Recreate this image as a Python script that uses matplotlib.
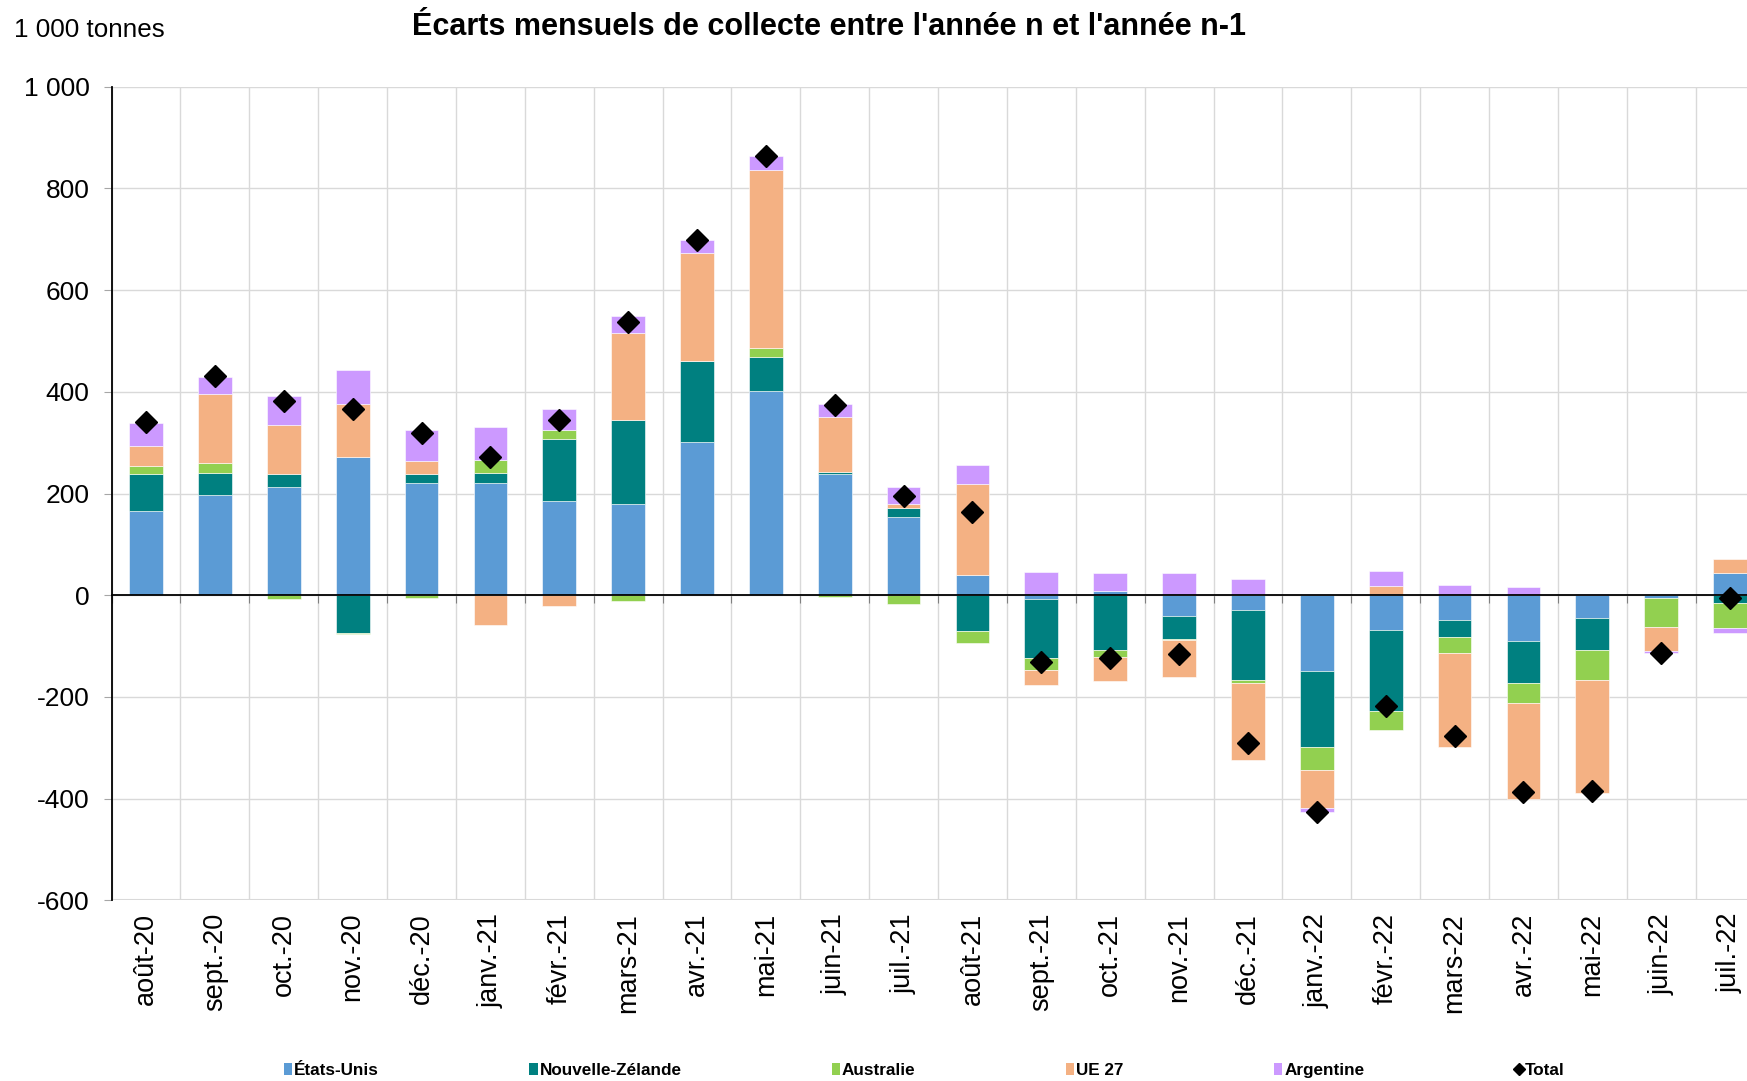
import matplotlib
matplotlib.use("Agg")
import matplotlib.pyplot as plt
import numpy as np
from matplotlib.patches import Patch
from matplotlib.lines import Line2D
from matplotlib.ticker import FuncFormatter, MultipleLocator, FixedLocator

plt.rcParams['font.family'] = ['Liberation Sans', 'DejaVu Sans']

months = ['août-20', 'sept.-20', 'oct.-20', 'nov.-20', 'déc.-20', 'janv.-21', 'févr.-21',
          'mars-21', 'avr.-21', 'mai-21', 'juin-21', 'juil.-21', 'août-21', 'sept.-21',
          'oct.-21', 'nov.-21', 'déc.-21', 'janv.-22', 'févr.-22', 'mars-22', 'avr.-22',
          'mai-22', 'juin-22', 'juil.-22']

etats_unis = [166, 197, 213, 271, 221, 221, 186, 180, 302, 401, 239, 154,
              40, -7, 8, -41, -28, -148, -69, -49, -90, -45, -5, 43]
nouvelle_zelande = [73, 44, 26, -75, 18, 20, 121, 164, 158, 68, 4, 18,
                    -70, -117, -108, -44, -138, -150, -158, -33, -83, -63, 0, -16]
australie = [15, 20, -8, -1, -6, 25, 18, -12, 0, 18, -4, -17,
             -23, -22, -14, -2, -7, -46, -37, -32, -38, -58, -57, -49]
ue27 = [39, 135, 96, 105, 25, -59, -22, 172, 213, 349, 108, 7,
        178, -31, -46, -73, -150, -75, 19, -184, -190, -222, -47, 28]
argentine = [46, 34, 56, 67, 62, 64, 42, 34, 26, 28, 26, 33,
             38, 45, 35, 43, 32, -8, 28, 20, 16, 3, -5, -10]
total = [340, 431, 383, 367, 319, 271, 345, 537, 698, 864, 374, 195,
         163, -132, -123, -116, -291, -427, -217, -277, -386, -384, -113, -5]

series_names = ['États-Unis', 'Nouvelle-Zélande', 'Australie', 'UE 27', 'Argentine']
series_values = [etats_unis, nouvelle_zelande, australie, ue27, argentine]
series_colors = ['#5B9BD5', '#008080', '#92D050', '#F4B183', '#CC99FF']

W, H = 1747, 1081
fig = plt.figure(figsize=(W / 100, H / 100), dpi=100)
ax = fig.add_axes([111.6 / W, (H - 900.4) / H, 24 * 68.87 / W, (900.4 - 86.8) / H])

x = np.arange(len(months))
pos_base = np.zeros(len(months))
neg_base = np.zeros(len(months))
for name, vals, col in zip(series_names, series_values, series_colors):
    v = np.array(vals, dtype=float)
    bottoms = np.where(v >= 0, pos_base, neg_base)
    ax.bar(x, v, width=0.49, bottom=bottoms, color=col, edgecolor='#ffffff',
           linewidth=0.4, zorder=3)
    pos_base = pos_base + np.where(v >= 0, v, 0)
    neg_base = neg_base + np.where(v < 0, v, 0)

ax.plot(x, total, linestyle='none', marker='D', markersize=11.5, color='black', zorder=5)

ax.set_xlim(-0.5, len(months) - 0.5)
ax.set_ylim(-600, 1000)
ax.yaxis.set_major_locator(MultipleLocator(200))
ax.yaxis.set_major_formatter(FuncFormatter(lambda v, p: f"{int(v):,}".replace(',', ' ')))
ax.tick_params(axis='y', labelsize=19, length=5.5, color='#a6a6a6', pad=10.5)

# Category boundaries: gridlines + small ticks on the zero line
boundaries = np.arange(len(months) + 1) - 0.5
ax.xaxis.set_major_locator(FixedLocator(boundaries))
ax.spines['bottom'].set_position(('data', 0))
ax.spines['bottom'].set_color('black')
ax.spines['bottom'].set_linewidth(1.3)
ax.spines['bottom'].set_zorder(4)
ax.tick_params(axis='x', which='major', length=6, color='#808080', labelbottom=False)
ax.grid(True, color='#d9d9d9', linewidth=1.0, zorder=0)
ax.set_axisbelow(True)
ax.axhline(-600, color='#d9d9d9', linewidth=1.5, zorder=0)

ax.spines['top'].set_visible(False)
ax.spines['right'].set_visible(False)
ax.spines['left'].set_color('black')
ax.spines['left'].set_linewidth(1.3)

sec = ax.secondary_xaxis(0.0)
sec.set_xticks(x)
sec.set_xticklabels(months, rotation=90, fontsize=19.5)
sec.tick_params(length=0, pad=9)
sec.spines['bottom'].set_visible(False)

fig.text(0.4745, 1 - 27 / H, "Écarts mensuels de collecte entre l'année n et l'année n-1",
         ha='center', va='center', fontsize=22, fontweight='bold')
fig.text(14 / W, 1 - 30 / H, "1 000 tonnes", ha='left', va='center', fontsize=18.7)

handles = [Patch(facecolor=c, edgecolor='none') for c in series_colors]
handles.append(Line2D([], [], linestyle='none', marker='D', markersize=6, color='black'))
labels = series_names + ['Total']
leg = fig.legend(handles, labels, loc='center', bbox_to_anchor=(0.529, 0.0095), ncol=6,
                 frameon=False, prop={'weight': 'bold', 'size': 12.3},
                 handlelength=0.5, handleheight=0.7, handletextpad=0.1,
                 columnspacing=8.8, borderaxespad=0)

fig.savefig('out.png', dpi=100)
